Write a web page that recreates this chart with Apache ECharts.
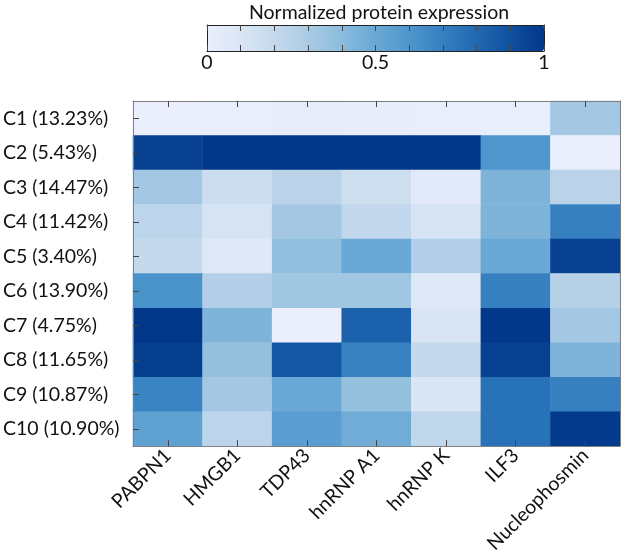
<!DOCTYPE html>
<html><head><meta charset="utf-8">
<script src="https://cdn.jsdelivr.net/npm/echarts@6/dist/echarts.min.js"></script>
<style>html,body{margin:0;padding:0;background:#fff}#c{width:630px;height:556px}</style>
</head><body><div id="c"></div>
<script>
const proteins = ['PABPN1','HMGB1','TDP43','hnRNP A1','hnRNP K','ILF3','Nucleophosmin'];
const clusters = ['C1 (13.23%)','C2 (5.43%)','C3 (14.47%)','C4 (11.42%)','C5 (3.40%)','C6 (13.90%)','C7 (4.75%)','C8 (11.65%)','C9 (10.87%)','C10 (10.90%)'];
// rows = clusters, columns = proteins
const C1  = [0.00, 0.01, 0.03, 0.02, 0.01, 0.01, 0.32];
const C2  = [0.96, 1.00, 1.00, 1.00, 1.00, 0.60, 0.00];
const C3  = [0.32, 0.17, 0.24, 0.16, 0.05, 0.44, 0.24];
const C4  = [0.23, 0.12, 0.32, 0.21, 0.12, 0.44, 0.70];
const C5  = [0.20, 0.07, 0.38, 0.50, 0.27, 0.50, 0.96];
const C6  = [0.62, 0.27, 0.33, 0.33, 0.07, 0.70, 0.26];
const C7  = [1.00, 0.44, 0.00, 0.83, 0.10, 1.00, 0.32];
const C8  = [0.97, 0.37, 0.87, 0.69, 0.20, 0.96, 0.44];
const C9  = [0.68, 0.32, 0.50, 0.37, 0.09, 0.76, 0.70];
const C10 = [0.54, 0.23, 0.56, 0.48, 0.22, 0.76, 0.99];
const rows = [C1, C2, C3, C4, C5, C6, C7, C8, C9, C10];
const colorbarTicks = [0, 0.5, 1];
const colorbarTitle = 'Normalized protein expression';

const data = [];
rows.forEach((r, yi) => r.forEach((v, xi) => data.push([xi, yi, v])));

const FONT = 'Lato';
const FS = 19.5;
const TICK = {show: true, inside: true, length: 6, lineStyle: {color: '#444', width: 1}};
const chart = echarts.init(document.getElementById('c'), null, {renderer: 'canvas'});
chart.setOption({
  animation: false,
  textStyle: {fontFamily: FONT},
  title: {text: colorbarTitle, left: 374, textAlign: 'center', top: -2,
    textStyle: {fontFamily: FONT, fontSize: FS, fontWeight: 'normal', color: '#111'}},
  grid: [
    {left: 131, top: 101, width: 489, height: 347, show: false},
    {left: 207, top: 25, width: 337, height: 26, show: false}
  ],
  xAxis: [
    {type: 'category', data: proteins, gridIndex: 0, position: 'bottom', z: 10,
      axisLine: {show: true, onZero: false, lineStyle: {color: '#808080', width: 1}},
      axisTick: Object.assign({alignWithLabel: true, interval: 0}, TICK),
      axisLabel: {rotate: 45, fontSize: FS, color: '#111', margin: 6, interval: 0, fontFamily: FONT}, splitLine: {show: false}},
    {type: 'category', data: proteins, gridIndex: 0, position: 'top', z: 10,
      axisLine: {show: true, onZero: false, lineStyle: {color: '#808080', width: 1}},
      axisTick: Object.assign({alignWithLabel: true, interval: 0}, TICK),
      axisLabel: {show: false}, splitLine: {show: false}},
    {type: 'value', gridIndex: 1, min: 0, max: 1, interval: 0.1, position: 'bottom', z: 10,
      axisLine: {show: true, onZero: false, lineStyle: {color: '#222', width: 1}},
      axisTick: TICK, splitLine: {show: false},
      axisLabel: {fontSize: FS, color: '#111', margin: 2, fontFamily: FONT, showMinLabel: true, showMaxLabel: true,
        formatter: v => { const t = colorbarTicks.find(t => Math.abs(t - v) < 1e-6); return t === undefined ? '' : String(t); }}},
    {type: 'value', gridIndex: 1, min: 0, max: 1, interval: 0.1, position: 'top', z: 10,
      axisLine: {show: true, onZero: false, lineStyle: {color: '#222', width: 1}},
      axisTick: TICK, splitLine: {show: false}, axisLabel: {show: false}}
  ],
  yAxis: [
    {type: 'category', data: clusters, gridIndex: 0, inverse: true, position: 'left', z: 10,
      axisLine: {show: true, onZero: false, lineStyle: {color: '#808080', width: 1}},
      axisTick: Object.assign({alignWithLabel: true, interval: 0}, TICK),
      axisLabel: {fontSize: FS, color: '#111', align: 'left', margin: 130, fontFamily: FONT}, splitLine: {show: false}},
    {type: 'category', data: clusters, gridIndex: 0, inverse: true, position: 'right', z: 10,
      axisLine: {show: true, onZero: false, lineStyle: {color: '#808080', width: 1}},
      axisTick: {show: false}, axisLabel: {show: false}, splitLine: {show: false}},
    {type: 'value', gridIndex: 1, min: 0, max: 1, position: 'left', z: 10,
      axisLine: {show: true, onZero: false, lineStyle: {color: '#222', width: 1}},
      axisTick: {show: false}, axisLabel: {show: false}, splitLine: {show: false}},
    {type: 'value', gridIndex: 1, min: 0, max: 1, position: 'right', z: 10,
      axisLine: {show: true, onZero: false, lineStyle: {color: '#222', width: 1}},
      axisTick: {show: false}, axisLabel: {show: false}, splitLine: {show: false}}
  ],
  visualMap: {
    type: 'continuous', min: 0, max: 1, seriesIndex: 0, orient: 'horizontal', z: 1,
    left: 207, top: 25, itemWidth: 26, itemHeight: 337, padding: 0, calculable: false,
    showLabel: false, text: null, hoverLink: false,
    inRange: {color: ['#ebeffd', '#d5e3f2', '#b9d2e8', '#93c0df', '#6aa8d5', '#4891ca', '#2a74ba', '#1457a4', '#02378a']}
  },
  series: [{
    type: 'heatmap', xAxisIndex: 0, yAxisIndex: 0, data: data, z: 1,
    itemStyle: {borderWidth: 0}, emphasis: {disabled: true}, label: {show: false}
  }]
});
</script></body></html>
